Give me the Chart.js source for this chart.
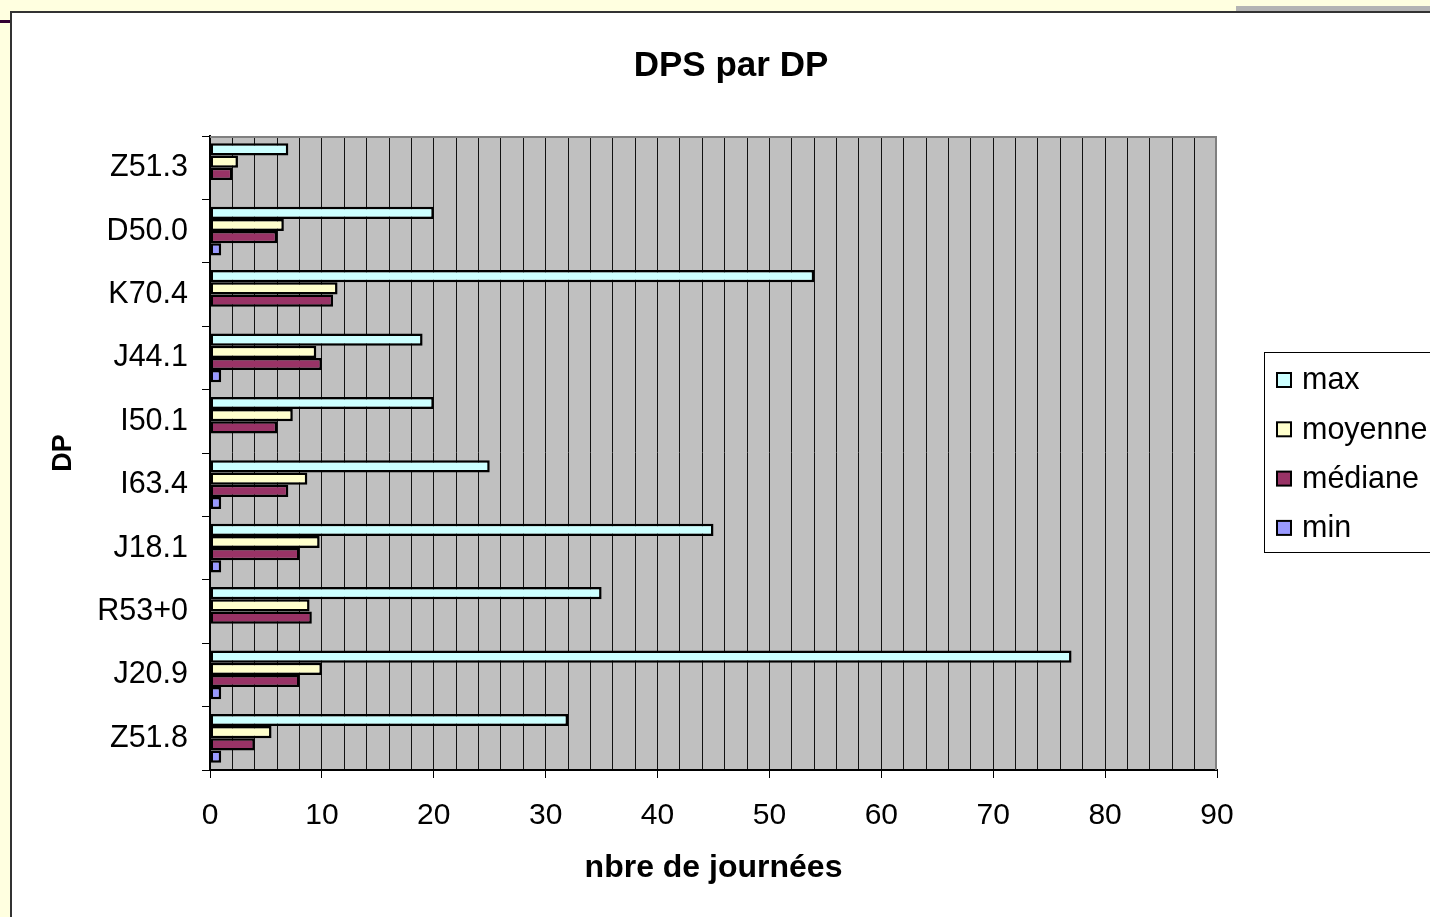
<!DOCTYPE html>
<html>
<head>
<meta charset="utf-8">
<title>DPS par DP</title>
<script src="https://cdn.jsdelivr.net/npm/chart.js@4.4.1/dist/chart.umd.min.js"></script>
<style>
  html, body { margin: 0; padding: 0; }
  body { width: 1430px; height: 917px; background: #ffffe0; position: relative; overflow: hidden; }
  #panel { position: absolute; left: 10px; top: 11px; width: 1420px; height: 906px; background: #fff;
           border-left: 2px solid #333; border-top: 2px solid #333; box-sizing: border-box; }
  #tab { position: absolute; left: 0; top: 20px; width: 10px; height: 3px; background: #330033; }
  #strip { position: absolute; left: 1236px; top: 6px; width: 194px; height: 5px; background: #b4b4b4; }
  #wrap { position: absolute; left: 0; top: 0; width: 1430px; height: 917px; }
</style>
</head>
<body>
<div id="panel"></div>
<div id="tab"></div>
<div id="strip"></div>
<div id="wrap"><canvas id="chart" width="1430" height="917"></canvas></div>
<script>
// données
const categories = ["Z51.3", "D50.0", "K70.4", "J44.1", "I50.1", "I63.4", "J18.1", "R53+0", "J20.9", "Z51.8"];
const maxValues = [7, 20, 54, 19, 20, 25, 45, 35, 77, 32];
const moyenneValues = [2.5, 6.6, 11.4, 9.5, 7.4, 8.7, 9.8, 8.9, 10, 5.5];
const medianeValues = [2, 6, 11, 10, 6, 7, 8, 9.1, 8, 4];
const minValues = [null, 1, null, 1, null, 1, 1, null, 1, 1];
const seriesNames = ["max", "moyenne", "médiane", "min"];
const seriesColors = ["#ccffff", "#ffffcc", "#993366", "#9999ff"];
const xMin = 0, xMax = 90, xStep = 2, xLabelEvery = 10;
const chartTitle = "DPS par DP";

const FONT = "'Liberation Sans', Arial, sans-serif";

const plotBg = {
  id: "plotBg",
  beforeDraw(chart) {
    const { ctx, chartArea: a } = chart;
    ctx.save();
    ctx.fillStyle = "#c0c0c0";
    ctx.fillRect(a.left, a.top, a.right - a.left, a.bottom - a.top);
    ctx.restore();
  },
  beforeDatasetsDraw(chart) {
    const { ctx, chartArea: a } = chart;
    ctx.save();
    ctx.strokeStyle = "#808080";
    ctx.lineWidth = 2;
    ctx.beginPath();
    ctx.moveTo(a.left, a.top + 1);
    ctx.lineTo(a.right - 1, a.top + 1);
    ctx.lineTo(a.right - 1, a.bottom);
    ctx.stroke();
    ctx.restore();
  }
};

// titre centré sur toute la zone du graphique (pas seulement sur la zone de tracé)
const pageTitle = {
  id: "pageTitle",
  afterDraw(chart) {
    const ctx = chart.ctx;
    ctx.save();
    ctx.font = "bold 35px " + FONT;
    ctx.fillStyle = "#000";
    ctx.textAlign = "center";
    ctx.textBaseline = "middle";
    ctx.fillText(chartTitle, 731, 66);
    ctx.restore();
  }
};

// légende encadrée à droite, comme dans Excel
const boxLegend = {
  id: "boxLegend",
  afterDraw(chart) {
    const ctx = chart.ctx;
    const x0 = 1264, y0 = 352, w = 170, h = 200;
    ctx.save();
    ctx.strokeStyle = "#000";
    ctx.lineWidth = 1;
    ctx.strokeRect(x0 + 0.5, y0 + 0.5, w, h);
    ctx.font = "30.5px " + FONT;
    ctx.textBaseline = "middle";
    chart.data.datasets.forEach((ds, i) => {
      const cy = 380 + i * 49.3;
      ctx.fillStyle = ds.backgroundColor;
      ctx.fillRect(1277, cy - 7, 14, 14);
      ctx.strokeStyle = "#000";
      ctx.lineWidth = 2;
      ctx.strokeRect(1277, cy - 7, 14, 14);
      ctx.fillStyle = "#000";
      ctx.fillText(ds.label, 1302, cy + 1);
    });
    ctx.restore();
  }
};

const allValues = [maxValues, moyenneValues, medianeValues, minValues];

new Chart(document.getElementById("chart"), {
  type: "bar",
  data: {
    labels: categories,
    datasets: allValues.map((vals, i) => ({
      label: seriesNames[i],
      data: vals,
      backgroundColor: seriesColors[i],
      borderColor: "#000",
      borderWidth: 2.5,
      borderSkipped: false,
      barPercentage: 1,
      categoryPercentage: 0.77
    }))
  },
  options: {
    indexAxis: "y",
    responsive: false,
    animation: false,
    layout: { padding: { left: 12, right: 213, top: 136, bottom: 0 } },
    plugins: {
      legend: { display: false },
      tooltip: { enabled: false },
      title: { display: false }
    },
    scales: {
      x: {
        min: xMin,
        max: xMax,
        ticks: {
          stepSize: xStep,
          autoSkip: false,
          maxRotation: 0,
          color: "#000",
          padding: 20,
          font: { family: FONT, size: 30 },
          callback: v => (v % xLabelEvery === 0 ? v : "")
        },
        grid: {
          color: c => (c.tick && c.tick.value === xMax ? "rgba(0,0,0,0)" : "#111"),
          lineWidth: 1,
          tickLength: 8,
          tickColor: c => (c.tick && c.tick.value % xLabelEvery === 0 ? "#000" : "rgba(0,0,0,0)")
        },
        border: { color: "#000", width: 2 },
        title: {
          display: true,
          text: "nbre de journées",
          color: "#000",
          font: { family: FONT, size: 32, weight: "bold" },
          padding: { top: 0, bottom: 30 }
        },
        afterFit: s => { s.height = 917 - 770; }
      },
      y: {
        ticks: {
          autoSkip: false,
          color: "#000",
          padding: 14,
          font: { family: FONT, size: 30.5 }
        },
        grid: { drawOnChartArea: false, tickLength: 8, tickColor: "#000", offset: true },
        border: { color: "#000", width: 2 },
        title: {
          display: true,
          text: "DP",
          color: "#000",
          font: { family: FONT, size: 27, weight: "bold" },
          padding: { top: 35, bottom: 0 }
        },
        afterFit: s => { s.width = 198; }
      }
    }
  },
  plugins: [plotBg, pageTitle, boxLegend]
});
</script>
</body>
</html>
